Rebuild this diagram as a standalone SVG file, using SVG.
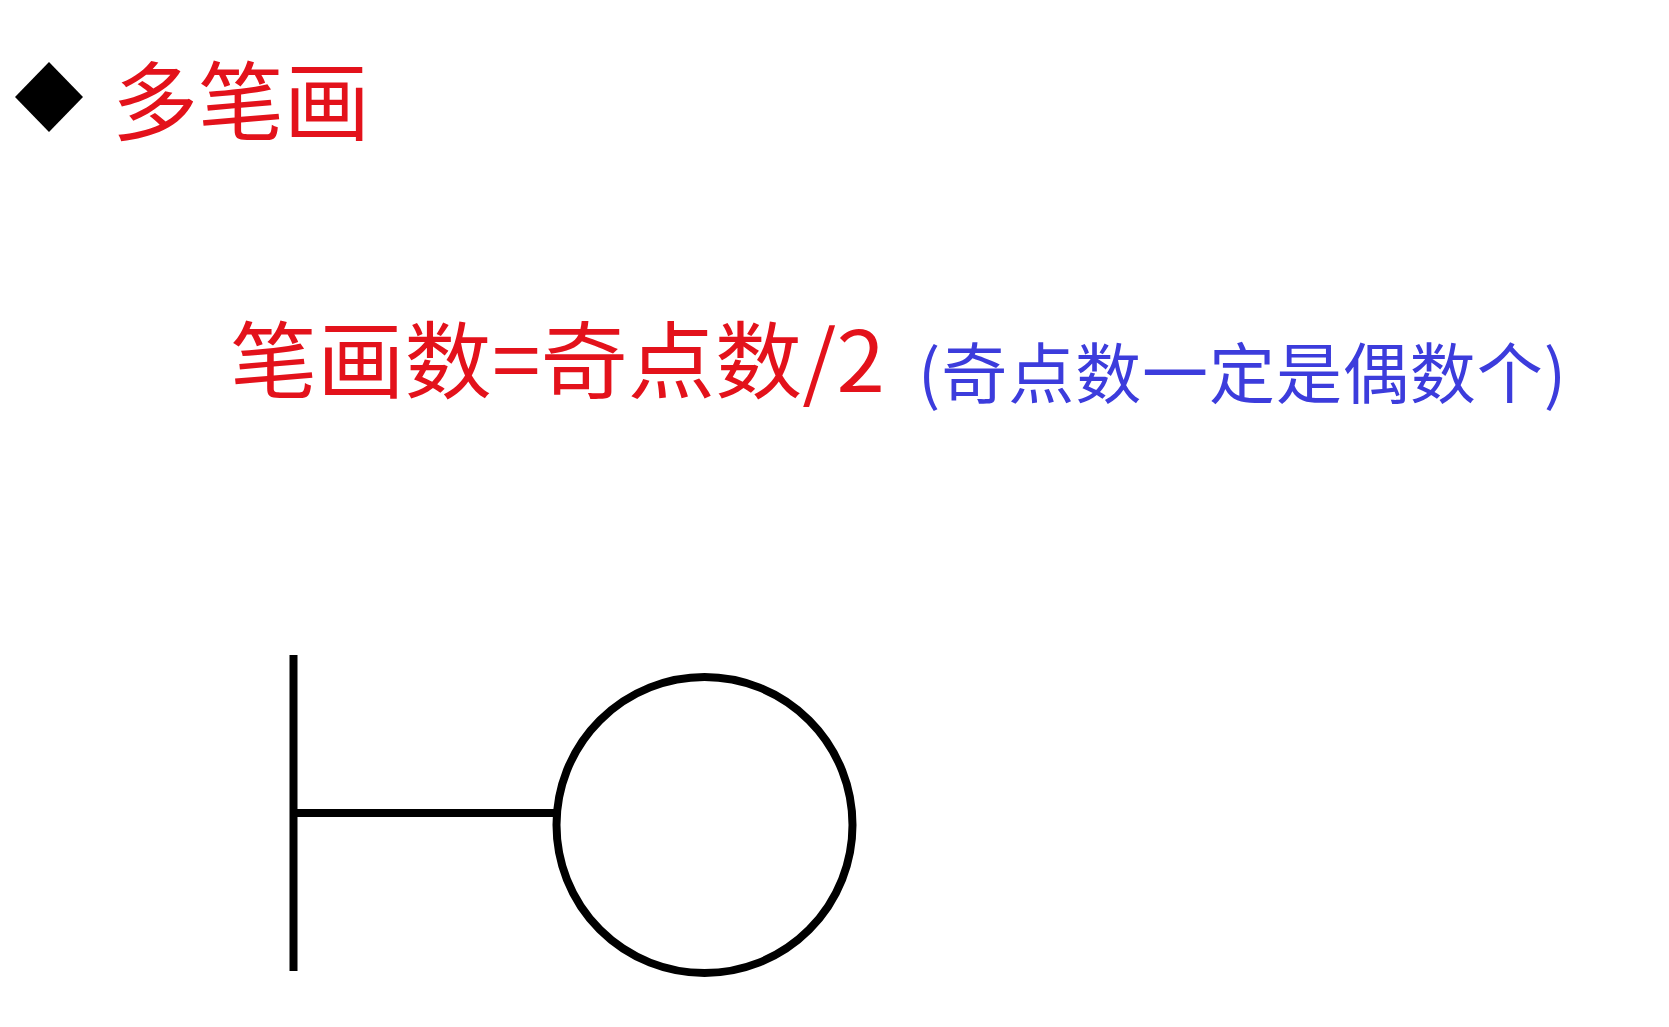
<svg xmlns="http://www.w3.org/2000/svg" width="1669" height="1027" viewBox="0 0 1669 1027">
<style>
.cjk{font-family:"Noto Sans CJK SC","Noto Sans",sans-serif;}
.red{fill:#e3121b;}
.blue{fill:#3c3cdc;}
.stk{fill:none;stroke:#000;stroke-width:8;}
</style>
<rect width="1669" height="1027" fill="#fff"/>
<g id="title">
<polygon points="49,62 83,97 49,132 15,97" fill="#000"/>
<text class="cjk red" x="112" y="134" font-size="86">多笔画</text>
</g>
<g id="formula">
<text class="cjk red" x="230" y="392" font-size="84" textLength="655" lengthAdjust="spacingAndGlyphs">笔画数=奇点数/2</text>
<text class="cjk blue" x="918" y="398" font-size="66" textLength="648" lengthAdjust="spacing">(奇点数一定是偶数个)</text>
</g>
<g id="figure">
<line class="stk" x1="293.5" y1="655" x2="293.5" y2="971"/>
<circle id="circle" class="stk" cx="704.5" cy="825" r="148"/>
</g>
<g id="connectors">
<line class="stk" x1="293.5" y1="813" x2="556" y2="813"/>
</g>
</svg>
